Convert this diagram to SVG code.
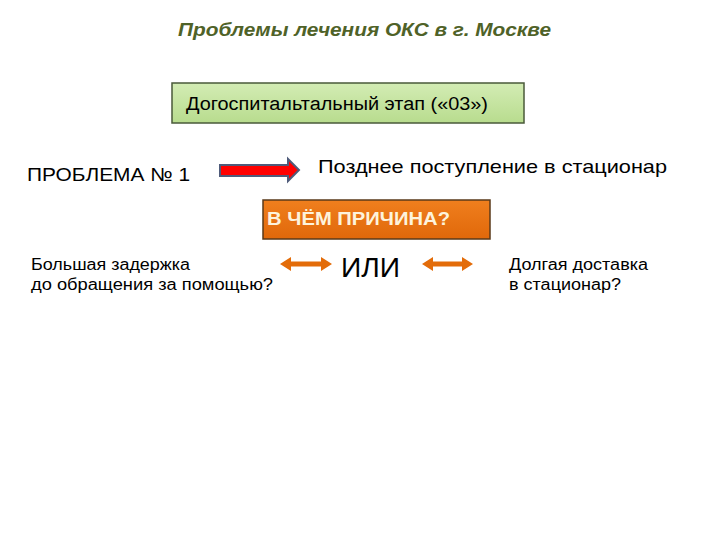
<svg xmlns="http://www.w3.org/2000/svg" width="720" height="540" viewBox="0 0 720 540">
<defs>
<linearGradient id="gGreen" x1="0" y1="0" x2="0" y2="1">
<stop offset="0" stop-color="#d3ecb4"/><stop offset="1" stop-color="#b8dc8e"/>
</linearGradient>
<linearGradient id="gOrange" x1="0" y1="0" x2="0" y2="1">
<stop offset="0" stop-color="#f07f1e"/><stop offset="1" stop-color="#e0680a"/>
</linearGradient>
<style>
text{font-family:"Liberation Sans",Arial,sans-serif;fill:#000}
.title{font-size:18px;font-weight:bold;font-style:italic;fill:#4f6228}
.big{font-size:19px}
.small{font-size:16px}
.orangeArrow{fill:#e36c09}
</style>
</defs>
<rect width="720" height="540" fill="#fff"/>
<g id="title"><text class="title" x="178" y="36" textLength="373" lengthAdjust="spacingAndGlyphs">Проблемы лечения ОКС в г. Москве</text></g>
<g id="stage">
<rect x="172" y="83" width="352" height="40" fill="url(#gGreen)" stroke="#4a5a3a" stroke-width="1.5"/>
<text x="186" y="110" font-size="18" textLength="302" lengthAdjust="spacingAndGlyphs">Догоспитальтальный этап («03»)</text>
</g>
<g id="problem"><text class="big" x="27" y="181" textLength="163" lengthAdjust="spacingAndGlyphs">ПРОБЛЕМА № 1</text></g>
<g id="late"><text class="big" x="318" y="173" textLength="349" lengthAdjust="spacingAndGlyphs">Позднее поступление в стационар</text></g>
<g id="reason">
<rect x="263" y="200" width="227" height="39" fill="url(#gOrange)" stroke="#5a3a1a" stroke-width="1.5"/>
<text x="267" y="225" font-size="19" font-weight="bold" style="fill:#fdf3dc" textLength="183" lengthAdjust="spacingAndGlyphs">В ЧЁМ ПРИЧИНА?</text>
</g>
<g id="delay">
<text class="small" x="31" y="270" textLength="159" lengthAdjust="spacingAndGlyphs">Большая задержка</text>
<text class="small" x="31" y="290" textLength="242" lengthAdjust="spacingAndGlyphs">до обращения за помощью?</text>
</g>
<g id="or"><text x="341" y="277" font-size="27" textLength="59" lengthAdjust="spacingAndGlyphs">ИЛИ</text></g>
<g id="delivery">
<text class="small" x="509" y="270" textLength="139" lengthAdjust="spacingAndGlyphs">Долгая доставка</text>
<text class="small" x="509" y="290" textLength="112" lengthAdjust="spacingAndGlyphs">в стационар?</text>
</g>
<g id="connectors">
<path d="M220 165 L288 165 L288 159 L299 170 L288 181 L288 176 L220 176 Z" fill="#ff0000" stroke="#4f5b7a" stroke-width="2"/>
<path class="orangeArrow" d="M280 264 L291 257 L291 261.5 L321 261.5 L321 257 L332 264 L321 271 L321 266.5 L291 266.5 L291 271 Z"/>
<path class="orangeArrow" d="M422 264 L433 257 L433 261.5 L462 261.5 L462 257 L473 264 L462 271 L462 266.5 L433 266.5 L433 271 Z"/>
</g>
</svg>
